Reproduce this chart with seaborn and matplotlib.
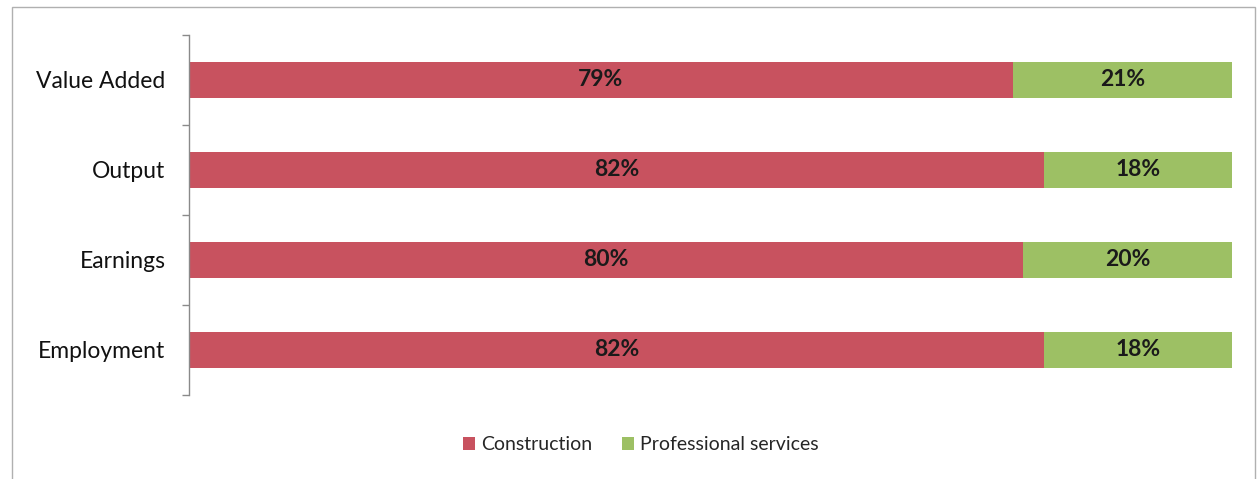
import matplotlib
matplotlib.use("Agg")
import matplotlib.pyplot as plt
from matplotlib.patches import Rectangle, Patch
import numpy as np
import pandas as pd
import seaborn as sns

categories = ["Value Added", "Output", "Earnings", "Employment"]
construction = [79, 82, 80, 82]
professional = [21, 18, 20, 18]
series_names = ["Construction", "Professional services"]

RED = "#C8525F"
GREEN = "#9DC064"

sns.set_theme(style="white")
plt.rcParams["font.family"] = ["Lato", "DejaVu Sans"]

df = pd.DataFrame({
    "category": categories,
    "construction": construction,
    "professional": professional,
})
df["total"] = df["construction"] + df["professional"]

fig = plt.figure(figsize=(12.59, 4.79), dpi=100)
ax = fig.add_axes([189 / 1259, 1 - 395 / 479, (1232 - 189) / 1259, (395 - 35) / 479])

# stacked bars: full total in green, construction share drawn on top in red
sns.barplot(data=df, y="category", x="total", orient="h", color=GREEN,
            width=0.4, saturation=1, ax=ax, linewidth=0)
sns.barplot(data=df, y="category", x="construction", orient="h", color=RED,
            width=0.4, saturation=1, ax=ax, linewidth=0)

for i, (c, p) in enumerate(zip(construction, professional)):
    ax.text(c / 2, i, f"{c}%", ha="center", va="center", fontsize=16.5,
            fontweight="bold", color="#1a1a1a")
    ax.text(c + p / 2, i, f"{p}%", ha="center", va="center", fontsize=16.5,
            fontweight="bold", color="#1a1a1a")

ax.set_xlim(0, 100)
ax.set_ylim(len(categories) - 0.5, -0.5)
ax.set_xlabel("")
ax.set_ylabel("")
ax.set_xticks([])

# category labels at bar centres, tick marks at category boundaries
ax.set_yticks(np.arange(-0.5, len(categories), 1.0))
ax.set_yticklabels([])
ax.set_yticks(np.arange(len(categories)), minor=True)
ax.set_yticklabels(categories, minor=True, fontsize=16.5, color="#111111")
ax.tick_params(axis="y", which="major", direction="out", length=5, width=1,
               color="#8a8a8a", left=True)
ax.tick_params(axis="y", which="minor", length=0, pad=17)

for side in ["top", "right", "bottom"]:
    ax.spines[side].set_visible(False)
ax.spines["left"].set_color("#8a8a8a")
ax.spines["left"].set_linewidth(1)

handles = [Patch(facecolor=RED, edgecolor="none"), Patch(facecolor=GREEN, edgecolor="none")]
fig.legend(handles, series_names, loc="center", bbox_to_anchor=(641 / 1259, 1 - 445 / 479),
           ncol=2, frameon=False, fontsize=14, handlelength=0.6, handleheight=0.6,
           handletextpad=0.35, columnspacing=1.5)

# outer chart frame
fig.patches.append(Rectangle((12 / 1259, -0.05), (1255 - 12) / 1259, 1.05 - 7 / 479,
                             transform=fig.transFigure, fill=False,
                             edgecolor="#b0b0b0", linewidth=1))

fig.savefig("out.png", dpi=100)
